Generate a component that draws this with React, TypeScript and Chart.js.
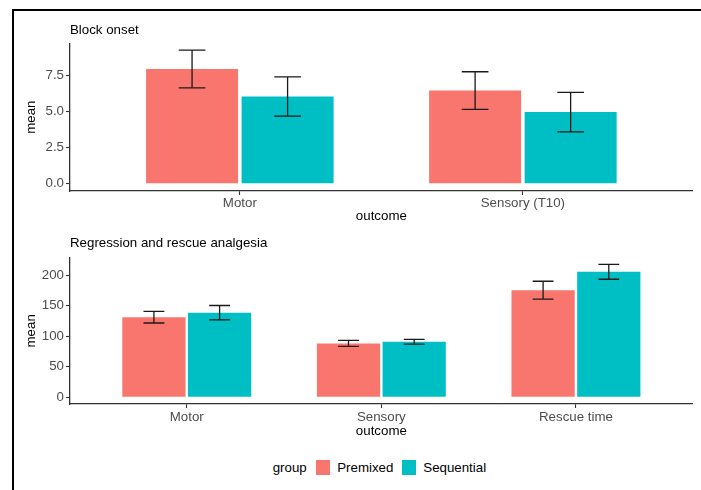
import React, { useEffect, useRef } from "react";
import { Chart, registerables } from "chart.js";

Chart.register(...registerables);

const FONT_FAMILY = "'Liberation Sans', Arial, Helvetica, sans-serif";

const groups = ["Premixed", "Sequential"];
const groupColors = ["#F8766D", "#00BFC4"];

// Panel 1: Block onset
const onsetCategories = ["Motor", "Sensory (T10)"];
const onsetPremixed = [7.93, 6.44];
const onsetPremixedErr = [1.3, 1.3];
const onsetSequential = [6.03, 4.95];
const onsetSequentialErr = [1.36, 1.37];
const onsetTicks = [0, 2.5, 5, 7.5];
const onsetTickLabels = ["0.0", "2.5", "5.0", "7.5"];

// Panel 2: Regression and rescue analgesia
const regressionCategories = ["Motor", "Sensory", "Rescue time"];
const regressionPremixed = [131.2, 88.3, 175.3];
const regressionPremixedErr = [9.5, 4.9, 14.7];
const regressionSequential = [138.6, 91, 205.5];
const regressionSequentialErr = [11.7, 4, 12.2];
const regressionTicks = [0, 50, 100, 150, 200];
const regressionTickLabels = ["0", "50", "100", "150", "200"];

const errorBarPlugin = {
  id: "errorBars",
  afterDatasetsDraw(chart: any, _args: any, opts: any) {
    const { ctx } = chart;
    const yScale = chart.scales.y;
    ctx.save();
    ctx.strokeStyle = opts.color || "#1a1a1a";
    ctx.lineWidth = opts.lineWidth || 1.3;
    chart.data.datasets.forEach((ds: any, i: number) => {
      const meta = chart.getDatasetMeta(i);
      meta.data.forEach((bar: any, j: number) => {
        const v = ds.data[j].y;
        const e = ds.errors[j];
        const yt = yScale.getPixelForValue(v + e);
        const yb = yScale.getPixelForValue(v - e);
        const half = (bar.width * (opts.capRatio || 0.3)) / 2;
        ctx.beginPath();
        ctx.moveTo(bar.x, yt);
        ctx.lineTo(bar.x, yb);
        ctx.moveTo(bar.x - half, yt);
        ctx.lineTo(bar.x + half, yt);
        ctx.moveTo(bar.x - half, yb);
        ctx.lineTo(bar.x + half, yb);
        ctx.stroke();
      });
    });
    ctx.restore();
  },
};

type PanelProps = {
  title: string;
  categories: string[];
  premixed: number[];
  premixedErr: number[];
  sequential: number[];
  sequentialErr: number[];
  yMin: number;
  yMax: number;
  yTicks: number[];
  yTickLabels: string[];
  width: number;
  height: number;
  titlePadTop: number;
  titlePadBottom: number;
  xAxisHeight: number;
  xTickPadding: number;
  xTitlePadBottom: number;
  capRatio: number;
};

function Panel(p: PanelProps) {
  const ref = useRef<HTMLCanvasElement | null>(null);
  useEffect(() => {
    if (!ref.current) return;
    const font = { family: FONT_FAMILY, size: 13.3 };
    const toPts = (vals: number[]) => vals.map((v, i) => ({ x: i + 1, y: v }));
    const chart = new Chart(ref.current, {
      type: "bar",
      data: {
        datasets: [
          {
            label: groups[0],
            data: toPts(p.premixed),
            errors: p.premixedErr,
            backgroundColor: groupColors[0],
            borderWidth: 0,
            categoryPercentage: 0.675,
            barPercentage: 0.963,
          } as any,
          {
            label: groups[1],
            data: toPts(p.sequential),
            errors: p.sequentialErr,
            backgroundColor: groupColors[1],
            borderWidth: 0,
            categoryPercentage: 0.675,
            barPercentage: 0.963,
          } as any,
        ],
      },
      options: {
        animation: false,
        responsive: false,
        maintainAspectRatio: false,
        devicePixelRatio: 1,
        layout: { padding: { left: 0, right: 8.3, top: 0, bottom: 0 } },
        plugins: {
          legend: { display: false },
          tooltip: { enabled: false },
          title: {
            display: true,
            text: p.title,
            align: "start",
            fullSize: false,
            color: "#000",
            font: { ...font, weight: "normal" },
            padding: { top: p.titlePadTop, bottom: p.titlePadBottom },
          },
          errorBars: { capRatio: p.capRatio, lineWidth: 1.3, color: "#1a1a1a" },
        } as any,
        scales: {
          x: {
            type: "linear",
            min: 0.4,
            max: p.categories.length + 0.6,
            offset: false,
            afterBuildTicks: (s: any) => {
              s.ticks = p.categories.map((_, i) => ({ value: i + 1 }));
            },
            afterFit: (s: any) => {
              s.height = p.xAxisHeight;
            },
            grid: {
              display: true,
              drawOnChartArea: false,
              drawTicks: true,
              tickLength: 4,
              tickColor: "#333",
              tickWidth: 1.1,
              offset: false,
            },
            border: { display: true, color: "#333", width: 1.3 },
            ticks: {
              autoSkip: false,
              maxRotation: 0,
              padding: p.xTickPadding,
              color: "#4d4d4d",
              font,
              callback: (v: any) => p.categories[Math.round(Number(v)) - 1] ?? "",
            },
            title: {
              display: true,
              text: "outcome",
              color: "#000",
              font,
              padding: { top: 0, bottom: p.xTitlePadBottom },
            },
          } as any,
          y: {
            type: "linear",
            min: p.yMin,
            max: p.yMax,
            afterBuildTicks: (s: any) => {
              s.ticks = p.yTicks.map((v) => ({ value: v }));
            },
            afterFit: (s: any) => {
              s.width = 70;
            },
            grid: {
              display: true,
              drawOnChartArea: false,
              drawTicks: true,
              tickLength: 4,
              tickColor: "#333",
              tickWidth: 1.1,
            },
            border: { display: true, color: "#333", width: 1.3 },
            ticks: {
              padding: 2,
              color: "#4d4d4d",
              font,
              callback: (v: any) => {
                const idx = p.yTicks.indexOf(Number(v));
                return idx >= 0 ? p.yTickLabels[idx] : "";
              },
            },
            title: {
              display: true,
              text: "mean",
              color: "#000",
              font,
              padding: { top: 23.2, bottom: 0 },
            },
          } as any,
        },
      },
      plugins: [errorBarPlugin],
    } as any);
    return () => chart.destroy();
  }, []);
  return (
    <canvas
      ref={ref}
      width={p.width}
      height={p.height}
      style={{ display: "block", width: p.width, height: p.height }}
    />
  );
}

export default function App() {
  const legendFont = { fontFamily: FONT_FAMILY, fontSize: 13.3, color: "#000" };
  return (
    <div
      style={{
        position: "fixed",
        left: 0,
        top: 0,
        width: 701,
        height: 490,
        background: "#fff",
        overflow: "hidden",
      }}
    >
      <div
        style={{
          position: "absolute",
          left: 12,
          top: 9,
          width: 689,
          height: 481,
          borderLeft: "2px solid #000",
          borderTop: "2px solid #000",
          boxSizing: "border-box",
        }}
      />
      <div style={{ position: "absolute", left: 0, top: 0 }}>
        <Panel
          title="Block onset"
          categories={onsetCategories}
          premixed={onsetPremixed}
          premixedErr={onsetPremixedErr}
          sequential={onsetSequential}
          sequentialErr={onsetSequentialErr}
          yMin={-0.5}
          yMax={9.7}
          yTicks={onsetTicks}
          yTickLabels={onsetTickLabels}
          width={701}
          height={225}
          titlePadTop={22.7}
          titlePadBottom={4.7}
          xAxisHeight={34}
          xTickPadding={0}
          xTitlePadBottom={0.4}
          capRatio={0.29}
        />
      </div>
      <div style={{ position: "absolute", left: 0, top: 225 }}>
        <Panel
          title="Regression and rescue analgesia"
          categories={regressionCategories}
          premixed={regressionPremixed}
          premixedErr={regressionPremixedErr}
          sequential={regressionSequential}
          sequentialErr={regressionSequentialErr}
          yMin={-10.9}
          yMax={228.6}
          yTicks={regressionTicks}
          yTickLabels={regressionTickLabels}
          width={701}
          height={215}
          titlePadTop={10.4}
          titlePadBottom={6.3}
          xAxisHeight={36}
          xTickPadding={1}
          xTitlePadBottom={0.7}
          capRatio={0.33}
        />
      </div>
      <div
        style={{
          position: "absolute",
          left: 272.7,
          top: 460,
          height: 14.5,
          display: "flex",
          alignItems: "center",
          whiteSpace: "nowrap",
          ...legendFont,
        }}
      >
        <span style={{ marginRight: 9 }}>group</span>
        <span style={{ width: 14.5, height: 14.5, background: groupColors[0], marginRight: 7 }} />
        <span style={{ marginRight: 8.4 }}>{groups[0]}</span>
        <span style={{ width: 14.5, height: 14.5, background: groupColors[1], marginRight: 7 }} />
        <span>{groups[1]}</span>
      </div>
    </div>
  );
}
